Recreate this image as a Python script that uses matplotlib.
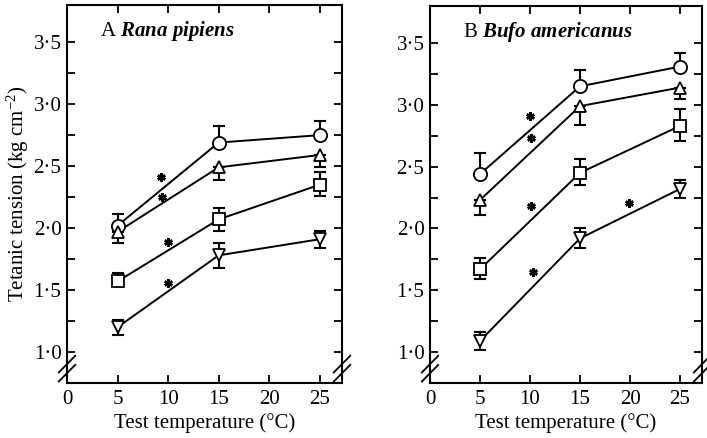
import matplotlib
matplotlib.use("Agg")
import matplotlib.pyplot as plt
import numpy as np

plt.rcParams['font.family'] = ['Liberation Serif', 'DejaVu Serif']
plt.rcParams['mathtext.fontset'] = 'custom'
plt.rcParams['mathtext.rm'] = 'Liberation Serif'
plt.rcParams['mathtext.it'] = 'Liberation Serif:italic:bold'
plt.rcParams['mathtext.bf'] = 'Liberation Serif:bold'

# ---------------- data ----------------
temps = [5, 15, 25]
x_ticks = [0, 5, 10, 15, 20, 25]
x_tick_labels = ['0', '5', '10', '15', '20', '25']
y_ticks = [1.0, 1.5, 2.0, 2.5, 3.0, 3.5]
y_tick_labels = ['1·0', '1·5', '2·0', '2·5', '3·0', '3·5']
y_minor = [1.25, 1.75, 2.25, 2.75, 3.25]

panel_titles = ['A', 'B']
species = ['Rana pipiens', 'Bufo americanus']

# Rana pipiens (A)
rana_circle = [2.02, 2.69, 2.75]
rana_circle_lo = [0.0, 0.0, 0.0]
rana_circle_hi = [0.09, 0.13, 0.11]
rana_tri_up = [1.97, 2.49, 2.59]
rana_tri_up_lo = [0.09, 0.10, 0.10]
rana_tri_up_hi = [0.0, 0.0, 0.0]
rana_square = [1.57, 2.07, 2.35]
rana_square_lo = [0.04, 0.09, 0.09]
rana_square_hi = [0.07, 0.09, 0.10]
rana_tri_dn = [1.20, 1.78, 1.91]
rana_tri_dn_lo = [0.06, 0.10, 0.07]
rana_tri_dn_hi = [0.06, 0.10, 0.07]
rana_star_x = [9.3, 9.4, 10.0, 10.0]
rana_star_y = [2.41, 2.25, 1.89, 1.56]

# Bufo americanus (B)
bufo_circle = [2.44, 3.15, 3.31]
bufo_circle_lo = [0.0, 0.0, 0.0]
bufo_circle_hi = [0.17, 0.13, 0.11]
bufo_tri_up = [2.23, 2.99, 3.14]
bufo_tri_up_lo = [0.12, 0.15, 0.09]
bufo_tri_up_hi = [0.0, 0.0, 0.0]
bufo_square = [1.67, 2.45, 2.83]
bufo_square_lo = [0.08, 0.10, 0.12]
bufo_square_hi = [0.09, 0.11, 0.14]
bufo_tri_dn = [1.09, 1.92, 2.32]
bufo_tri_dn_lo = [0.07, 0.08, 0.07]
bufo_tri_dn_hi = [0.07, 0.08, 0.07]
bufo_star_x = [10.0, 10.1, 10.1, 19.9, 10.3]
bufo_star_y = [2.91, 2.73, 2.18, 2.21, 1.65]

panels = [
    dict(series=[(rana_circle, rana_circle_lo, rana_circle_hi, 'o'),
                 (rana_tri_up, rana_tri_up_lo, rana_tri_up_hi, '^'),
                 (rana_square, rana_square_lo, rana_square_hi, 's'),
                 (rana_tri_dn, rana_tri_dn_lo, rana_tri_dn_hi, 'v')],
         sx=rana_star_x, sy=rana_star_y),
    dict(series=[(bufo_circle, bufo_circle_lo, bufo_circle_hi, 'o'),
                 (bufo_tri_up, bufo_tri_up_lo, bufo_tri_up_hi, '^'),
                 (bufo_square, bufo_square_lo, bufo_square_hi, 's'),
                 (bufo_tri_dn, bufo_tri_dn_lo, bufo_tri_dn_hi, 'v')],
         sx=bufo_star_x, sy=bufo_star_y),
]

fig = plt.figure(figsize=(7.07, 4.38), dpi=100)
rects = [[67/707, 1-383/438, 275/707, 378/438],
         [430/707, 1-383/438, 272/707, 377/438]]

FS = 15
msizes = {'o': 9.5, '^': 8.5, 's': 9, 'v': 8.5}
for i, (p, r) in enumerate(zip(panels, rects)):
    ax = fig.add_axes(r)
    for vals, lo, hi, m in p['series']:
        ax.errorbar(temps, vals, yerr=[lo, hi], fmt='-', color='black',
                    lw=1.4, elinewidth=1.5, capsize=4, capthick=1.5, zorder=2)
        ax.plot(temps, vals, linestyle='none', marker=m, ms=msizes[m],
                mfc='white', mec='black', mew=1.3, zorder=3)
    ax.plot(p['sx'], p['sy'], linestyle='none', marker=(6, 2, 0), ms=6,
            color='black', mew=1.8, zorder=4)
    ax.set_xlim(0, 27.2)
    ax.set_ylim(0.75, 3.80)
    ax.set_xticks(x_ticks)
    ax.set_xticklabels(x_tick_labels, fontsize=FS)
    ax.set_yticks(y_ticks)
    ax.set_yticklabels(y_tick_labels, fontsize=FS)
    ax.set_yticks(y_minor, minor=True)
    ax.tick_params(axis='both', which='both', direction='in', top=True,
                   right=True, length=6, width=1.3, pad=4)
    ax.tick_params(axis='x', which='major', pad=5)
    for s in ax.spines.values():
        s.set_linewidth(1.5)
    ax.set_xlabel('Test temperature (°C)', fontsize=FS, labelpad=3)
    if i == 0:
        ax.set_ylabel('Tetanic tension (kg cm$^{-2}$)', fontsize=FS, labelpad=2)
    ax.text(0.12, 0.93, panel_titles[i] + ' $\\mathit{' + species[i].replace(' ', '\\ ') + '}$',
            transform=ax.transAxes, fontsize=FS, ha='left', va='center')
    # axis break marks on left and right spines
    for xa in (0.0, 1.0):
        for dy in (-0.012, 0.012):
            ax.plot([xa - 0.03, xa + 0.03], [0.038 + dy - 0.022, 0.038 + dy + 0.022],
                    transform=ax.transAxes, color='black', lw=1.3, clip_on=False)

fig.savefig('out.png', dpi=100)
